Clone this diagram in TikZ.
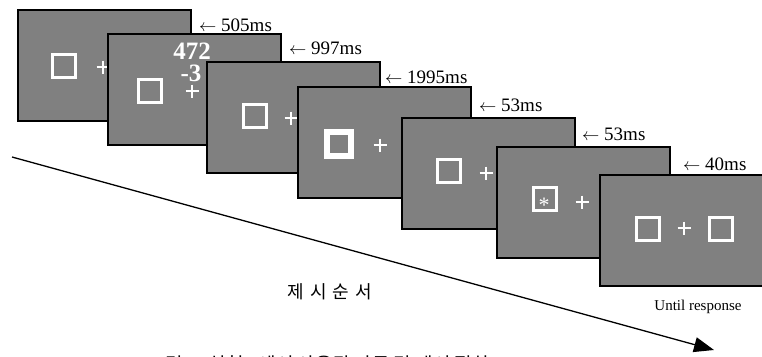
\documentclass[tikz,border=0pt]{standalone}
\usepackage{fontspec}
\setmainfont{Liberation Serif}
\newfontfamily\kr{Noto Sans CJK KR}
\usetikzlibrary{arrows.meta}
\definecolor{screen}{HTML}{808080}
\tikzset{
  panel/.style={draw=black, line width=1.4pt, fill=screen, minimum width=173pt,
    minimum height=111pt, inner sep=0pt, outer sep=0pt},
  cue/.style={draw=white, line width=3pt, minimum size=23pt, inner sep=0pt},
  boldcue/.style={draw=white, line width=6pt, minimum size=24pt, inner sep=0pt},
  dur/.style={anchor=west, inner sep=0pt, font=\fontsize{19}{21}\selectfont},
  digit/.style={text=white, inner sep=0pt, font=\fontsize{25}{27}\selectfont\bfseries},
  fixation/.pic={\draw[white, line width=1.4pt] (-6.5,0) -- (6.5,0) (0,-6.5) -- (0,6.5);}
}
\begin{document}
\begin{tikzpicture}[x=1pt, y=-1pt]
\useasboundingbox (0,0) rectangle (762,356);
\clip (0,0) rectangle (762,356);

% screen 1: cue and fixation
\node[panel] (p1) at (104.5,65.5) {};
\node[cue] (s1) at (64,65.5) {};
\pic at (103,67) {fixation};

% screen 2: number task
\node[panel] (p2) at (194.5,89.5) {};
\node[cue] (s2) at (150,91) {};
\pic at (192,91) {fixation};
\node[digit] (n1) at (192,51) {472};
\node[digit] (n2) at (191,73) {-3};

% screen 3
\node[panel] (p3) at (293.5,117.5) {};
\node[cue] (s3) at (254.5,116) {};
\pic at (291,118) {fixation};

% screen 4: bold cue
\node[panel] (p4) at (384.5,142.5) {};
\node[boldcue] (s4) at (339,143.5) {};
\pic at (380,145) {fixation};

% screen 5
\node[panel] (p5) at (488.5,173.5) {};
\node[cue] (s5) at (449,170.5) {};
\pic at (486,173) {fixation};

% screen 6: target
\node[panel] (p6) at (583.5,202.5) {};
\node[cue] (s6) at (545,199) {};
\node[text=white, inner sep=0pt, font=\fontsize{22}{22}\selectfont] (t6) at (544,205) {*};
\pic at (582,202) {fixation};

% screen 7: response display
\node[panel] (p7) at (686.5,230.5) {};
\node[cue] (s7a) at (648,228.5) {};
\node[cue] (s7b) at (721,228.5) {};
\pic at (684,228) {fixation};

% durations
\node[dur] (d1) at (199,25.5) {$\leftarrow$ 505ms};
\node[dur] (d2) at (289,48) {$\leftarrow$ 997ms};
\node[dur] (d3) at (385,77) {$\leftarrow$ 1995ms};
\node[dur] (d4) at (479,105) {$\leftarrow$ 53ms};
\node[dur] (d5) at (582,134) {$\leftarrow$ 53ms};
\node[dur] (d6) at (683,164) {$\leftarrow$ 40ms};
\node[inner sep=0pt, font=\fontsize{15}{17}\selectfont] (until) at (698,307) {Until response};

% time axis
\coordinate (t0) at (12,157);
\coordinate (t1) at (714,350);
\draw[line width=1.3pt, -{Triangle[length=20pt, width=15pt]}] (t0) -- (t1);
\node[inner sep=0pt, font=\kr\fontsize{18}{20}\selectfont] (order) at (330,292) {제\,\,시\,\,순\,\,서};

% caption
\node[anchor=west, inner sep=0pt, font=\kr\fontsize{19}{21}\selectfont] (cap) at (148,364) {그림 1. 실험 1에서 사용된 자극 및 제시 절차};
\end{tikzpicture}
\end{document}
